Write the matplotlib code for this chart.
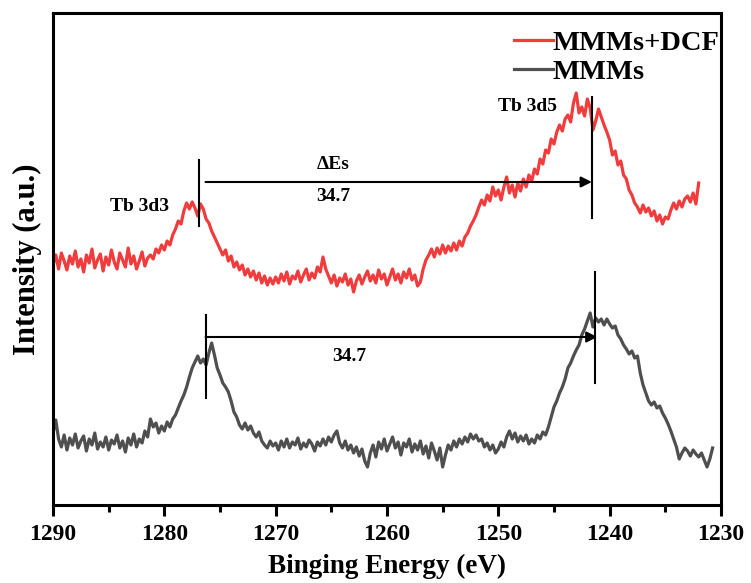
import numpy as np
import matplotlib
matplotlib.use("Agg")
import matplotlib.pyplot as plt
from matplotlib.ticker import MultipleLocator

# XPS Tb 3d region, intensities (a.u.), 0.25 eV steps from 1290 eV downwards
step = 0.25
start_energy = 1290.0

dcf_int = [
    # 1290 -> 1281.5
    240, 250, 236, 252, 244, 235, 249, 241, 254, 238,
    246, 233, 250, 242, 256, 237, 245, 251, 234, 248,
    240, 255, 243, 236, 252, 245, 238, 257, 241, 249,
    236, 244, 253, 239, 247,
    # 1281.25 -> 1270.25  (Tb 3d3)
    250, 246, 256, 252, 260, 255, 264, 260, 270, 276,
    284, 281, 294, 302, 296, 303, 297, 289, 301, 296,
    286, 282, 274, 268, 262, 256, 250, 255, 244, 249,
    238, 243, 235, 240, 230, 236, 228, 234, 225, 232,
    222, 229, 220, 227, 221,
    # 1270 -> 1257
    228, 222, 231, 224, 233, 221, 229, 226, 234, 223,
    230, 236, 225, 232, 227, 238, 233, 248, 236, 229,
    222, 230, 219, 227, 223, 231, 220, 226, 213, 224,
    230, 221, 228, 234, 224, 230, 222, 235, 226, 231,
    220, 228, 236, 225, 231, 222, 233, 227, 236, 225,
    230, 219, 223,
    # 1256.75 -> 1232  (Tb 3d5)
    236, 245, 250, 256, 248, 257, 251, 260, 252, 259,
    254, 262, 255, 264, 259, 268, 272, 279, 284, 290,
    298, 305, 300, 310, 304, 318, 309, 315, 305, 318,
    328, 312, 320, 308, 322, 314, 326, 318, 330, 324,
    336, 331, 346, 341, 355, 352, 366, 361, 373, 380,
    374, 386, 390, 383, 402, 412, 392, 398, 389, 406,
    397, 375, 384, 396, 388, 380, 373, 365, 350, 354,
    340, 344, 330, 326, 315, 310, 302, 298, 292, 300,
    293, 297, 289, 294, 284, 290, 281, 288, 286, 295,
    302, 296, 304, 298, 306, 309, 303, 312, 301, 322,
]

mmm_int = [
    # 1290 -> 1281.5
    72, 85, 66, 58, 70, 55, 67, 60, 71, 57,
    64, 69, 54, 66, 60, 72, 56, 63, 58, 68,
    55, 65, 61, 70, 57, 64, 53, 67, 60, 71,
    58, 66, 62, 74, 68,
    # 1281.25 -> 1270.25
    86, 78, 82, 72, 79, 74, 83, 78, 86, 90,
    97, 104, 110, 118, 128, 137, 143, 149, 142, 146,
    140, 152, 162, 150, 137, 130, 122, 118, 113, 104,
    93, 88, 80, 76, 82, 75, 79, 72, 68, 73,
    64, 60, 57, 64, 59,
    # 1270 -> 1252
    62, 55, 64, 58, 66, 57, 63, 60, 67, 56,
    62, 58, 65, 61, 54, 63, 59, 66, 60, 68,
    63, 70, 74, 62, 57, 64, 55, 60, 52, 58,
    49, 56, 44, 38, 52, 60, 48, 63, 56, 66,
    54, 61, 68, 57, 63, 50, 62, 58, 66, 53,
    61, 55, 64, 51, 59, 47, 62, 54, 45, 57,
    38, 50, 60, 55, 64, 58, 66, 61, 68, 63,
    71, 66, 70,
    # 1251.75 -> 1230.75
    64, 66, 58, 62, 55, 60, 52, 56, 63, 58,
    68, 74, 66, 72, 63, 69, 64, 70, 61, 66,
    62, 70, 66, 73, 70, 78, 88, 98, 104, 112,
    118, 126, 137, 142, 149, 155, 160, 170, 176, 184,
    192, 178, 187, 183, 186, 180, 186, 181, 177, 179,
    170, 166, 160, 156, 151, 154, 147, 149, 132, 120,
    112, 104, 100, 103, 97, 99, 92, 87, 81, 74,
    66, 58, 46, 52, 57, 54, 49, 55, 51, 48,
    52, 45, 38, 46, 57,
]

dcf_energy = start_energy - step * np.arange(len(dcf_int))
mmm_energy = start_energy - step * np.arange(len(mmm_int))

xticks = [1290, 1280, 1270, 1260, 1250, 1240, 1230]

plt.rcParams['font.family'] = ['Liberation Serif', 'DejaVu Serif']
plt.rcParams['font.weight'] = 'bold'

fig = plt.figure(figsize=(7.51, 5.83), dpi=100)
ax = fig.add_axes([0.0706, 0.1338, 0.8894, 0.8439])

red = '#F03C3C'
grey = '#4F4F4F'
ax.plot(dcf_energy, dcf_int, color=red, lw=2.3, label='MMMs+DCF')
ax.plot(mmm_energy, mmm_int, color=grey, lw=2.3, label='MMMs')

# peak markers and splitting arrows
ax.plot([1276.9, 1276.9], [279, 345], color='black', lw=1.5)
ax.plot([1241.6, 1241.6], [287, 408], color='black', lw=1.5)
ax.annotate('', xy=(1241.6, 323), xytext=(1276.3, 323),
            arrowprops=dict(arrowstyle='-|>', color='black', lw=1.5, mutation_scale=16,
                            shrinkA=0, shrinkB=0))
ax.plot([1276.3, 1276.3], [107, 190], color='black', lw=1.5)
ax.plot([1241.3, 1241.3], [122, 233], color='black', lw=1.5)
ax.annotate('', xy=(1241.1, 168), xytext=(1276.3, 168),
            arrowprops=dict(arrowstyle='-|>', color='black', lw=1.5, mutation_scale=16,
                            shrinkA=0, shrinkB=0))

ax.text(1282.2, 298, 'Tb 3d3', fontsize=14, ha='center', va='center')
ax.text(1247.4, 398, 'Tb 3d5', fontsize=14, ha='center', va='center')
ax.text(1264.8, 340, '\u0394Es', fontsize=14, ha='center', va='center')
ax.text(1264.8, 308, '34.7', fontsize=14, ha='center', va='center')
ax.text(1263.4, 148, '34.7', fontsize=14, ha='center', va='center')

ax.set_xlim(1290, 1230)
ax.set_ylim(0, 492)
ax.set_xticks(xticks)
ax.xaxis.set_minor_locator(MultipleLocator(5))
ax.set_yticks([])
ax.tick_params(axis='x', which='major', direction='out', length=8, width=2.2,
               labelsize=17, pad=6)
ax.tick_params(axis='x', which='minor', direction='out', length=5, width=2.2)
for sp in ax.spines.values():
    sp.set_linewidth(2.2)

ax.set_xlabel('Binging Energy (eV)', fontsize=19.5, fontweight='bold', labelpad=6)
ax.set_ylabel('Intensity (a.u.)', fontsize=22, fontweight='bold', labelpad=8)

leg = ax.legend(loc='upper right', bbox_to_anchor=(0.998, 0.965), frameon=False,
                fontsize=20.5, handlelength=1.35, handletextpad=0.0, labelspacing=0.1,
                borderpad=0, borderaxespad=0)

fig.savefig('out.png', dpi=100)
